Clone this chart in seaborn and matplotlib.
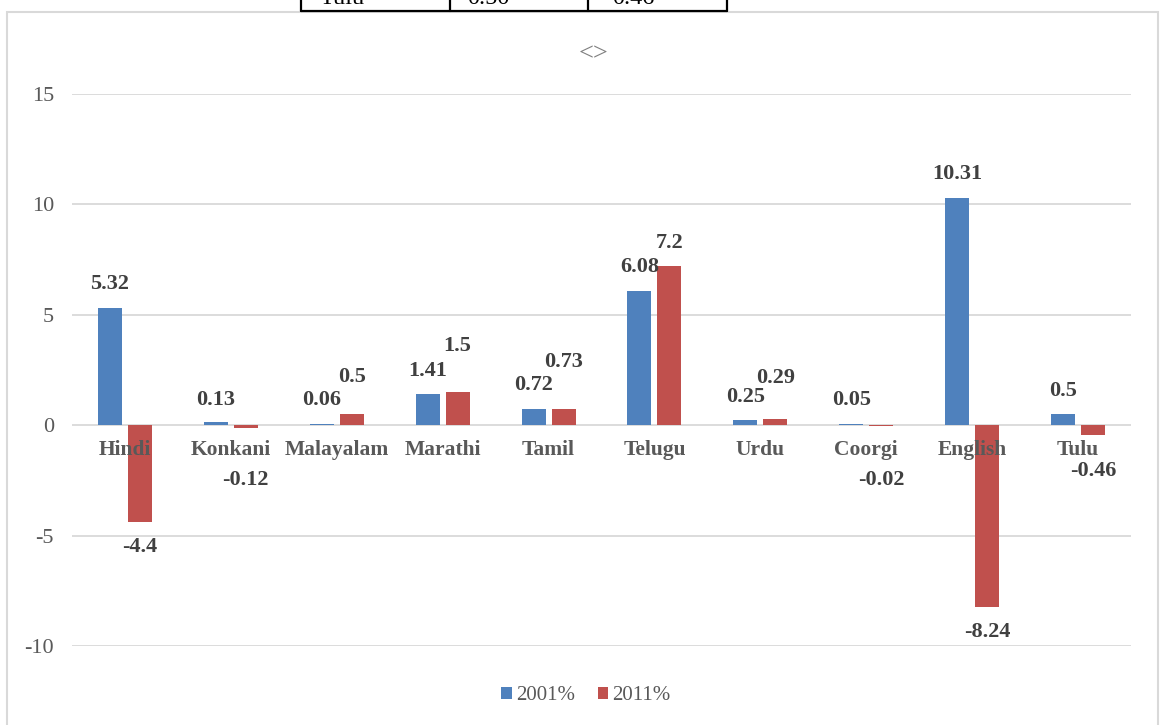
import matplotlib
matplotlib.use("Agg")
import matplotlib.pyplot as plt
import seaborn as sns
import pandas as pd
from matplotlib.patches import Rectangle, Patch
from matplotlib.lines import Line2D

# ---- data ----
languages = ["Hindi", "Konkani", "Malayalam", "Marathi", "Tamil",
             "Telugu", "Urdu", "Coorgi", "English", "Tulu"]
pct_2001 = [5.32, 0.13, 0.06, 1.41, 0.72, 6.08, 0.25, 0.05, 10.31, 0.5]
pct_2011 = [-4.4, -0.12, 0.5, 1.5, 0.73, 7.2, 0.29, -0.02, -8.24, -0.46]
series_names = ["2001%", "2011%"]
yticks = [-10, -5, 0, 5, 10, 15]
# label centre offsets from bar ends (data units), as placed in the reference
label_off_2001 = [1.07, 1.0, 1.07, 1.04, 1.09, 1.08, 1.02, 1.08, 1.06, 1.04]
label_off_2011 = [-1.13, -2.37, 1.67, 2.1, 2.12, 1.05, 1.84, -2.47, -1.14, -1.62]
table_cells = ["Tulu", "0.50", "0.46"]

BLUE = "#4F81BD"
RED = "#C0504D"
GRID = "#D9D9D9"
TXT = "#595959"
LBL = "#404040"
SERIF = ["Liberation Serif", "DejaVu Serif"]

df = pd.DataFrame({
    "lang": languages * 2,
    "value": pct_2001 + pct_2011,
    "year": [series_names[0]] * len(languages) + [series_names[1]] * len(languages),
})

sns.set_theme(style="white")
plt.rcParams["font.family"] = SERIF

W, H = 1160, 725
fig = plt.figure(figsize=(W / 100, H / 100), dpi=100)
ax = fig.add_axes([72 / W, 1 - 646 / H, (1131 - 72) / W, (646 - 94) / H])

group_w = 0.566
bar_w = 0.227
sns.barplot(data=df, x="lang", y="value", hue="year", order=languages,
            hue_order=series_names, palette=[BLUE, RED], width=group_w,
            ax=ax, legend=False, saturation=1, edgecolor="none", linewidth=0)

for p in ax.patches:
    c = p.get_x() + p.get_width() / 2
    p.set_width(bar_w)
    p.set_x(c - bar_w / 2)

ax.set_ylim(-10, 15)
ax.set_xlim(-0.5, len(languages) - 0.5)
ax.set_yticks(yticks)
ax.set_yticklabels([str(t) for t in yticks])
ax.yaxis.grid(True, color=GRID, linewidth=1.3)
ax.xaxis.grid(False)
ax.set_axisbelow(True)
for s in ["top", "right", "left", "bottom"]:
    ax.spines[s].set_visible(False)
ax.set_xlabel("")
ax.set_ylabel("")
ax.tick_params(axis="y", length=0, pad=13, labelsize=16, labelcolor=TXT)
ax.set_xticks(range(len(languages)))
ax.set_xticklabels([])
ax.tick_params(axis="x", length=0)

# category labels drawn on top of the bars, next to the zero line
for i, name in enumerate(languages):
    ax.annotate(name, xy=(i, 0), xytext=(0, -18), textcoords="offset points",
                ha="center", va="center", fontsize=15.5, fontweight="bold",
                color=TXT, zorder=6, annotation_clip=False)

# data labels
offs = group_w / 4
for i, (v1, v2) in enumerate(zip(pct_2001, pct_2011)):
    ax.text(i - offs, v1 + label_off_2001[i], f"{v1:g}", ha="center", va="center",
            fontsize=16, fontweight="bold", color=LBL, zorder=7)
    ax.text(i + offs, v2 + label_off_2011[i], f"{v2:g}", ha="center", va="center",
            fontsize=16, fontweight="bold", color=LBL, zorder=7)

# title placeholder
fig.text(594 / W, 1 - 54 / H, "<>", ha="center", va="center", fontsize=19,
         color="#7F7F7F")

# legend
handles = [Patch(facecolor=BLUE, edgecolor="none"), Patch(facecolor=RED, edgecolor="none")]
fig.legend(handles, series_names, loc="center", bbox_to_anchor=(586 / W, 1 - 696 / H),
           ncol=2, frameon=False, fontsize=15, labelcolor=TXT,
           handlelength=0.5, handleheight=0.5, handletextpad=0.2, columnspacing=1.1)

# outer chart frame
fig.add_artist(Rectangle((7 / W, -0.05), (1158 - 7) / W, 1.05 - 12 / H,
                         transform=fig.transFigure, facecolor="none",
                         edgecolor=GRID, linewidth=1.5, clip_on=False))

# cut-off table row above the chart
ty = 1 - 10.5 / H
xs = [300.5, 450, 587.5, 726.5]
fig.add_artist(Line2D([xs[0] / W, xs[-1] / W], [ty, ty], transform=fig.transFigure,
                      color="black", linewidth=1.6))
for x in xs:
    fig.add_artist(Line2D([x / W, x / W], [ty, 1.01], transform=fig.transFigure,
                          color="black", linewidth=1.6))
cell_x = [320, 467, 612]
for x, s in zip(cell_x, table_cells):
    fig.text(x / W, 1 - 3.5 / H, s, ha="left", va="baseline", fontsize=17.5,
             color="black")

fig.savefig("out.png", dpi=100)
